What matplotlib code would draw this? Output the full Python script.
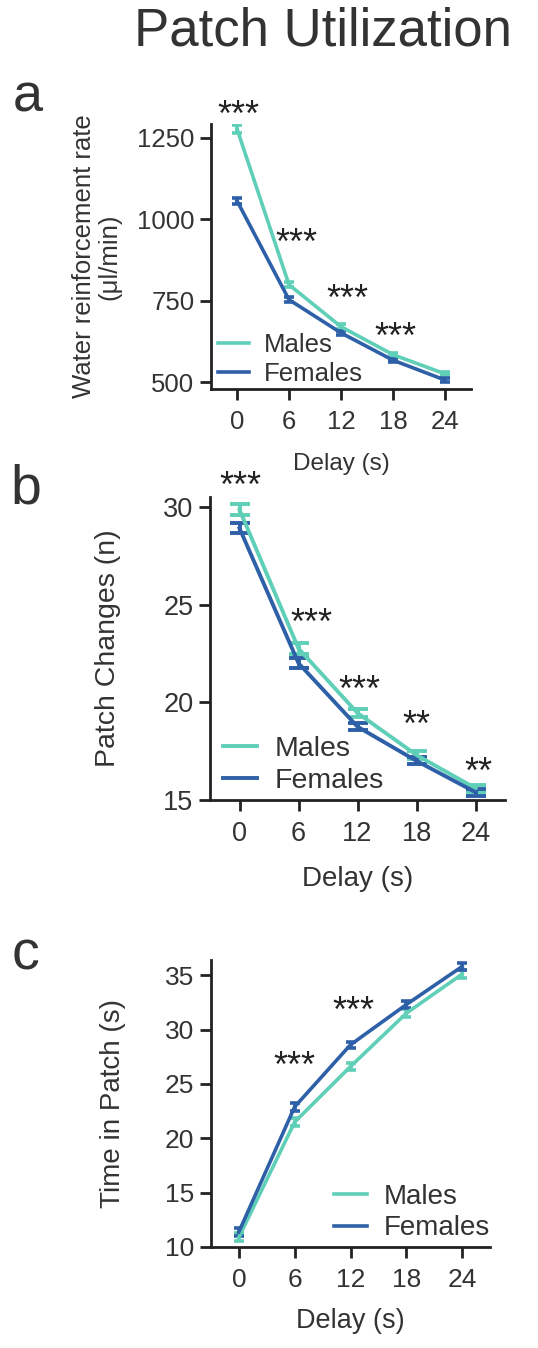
"""Patch utilization by delay: males vs females (three stacked panels)."""
import matplotlib
matplotlib.use("Agg")
import matplotlib.pyplot as plt

plt.rcParams["font.family"] = ["Liberation Sans", "DejaVu Sans"]
plt.rcParams["text.color"] = "#333333"
plt.rcParams["axes.labelcolor"] = "#333333"
plt.rcParams["xtick.color"] = "#222222"
plt.rcParams["ytick.color"] = "#222222"
plt.rcParams["xtick.labelcolor"] = "#333333"
plt.rcParams["ytick.labelcolor"] = "#333333"

delays = [0, 6, 12, 18, 24]
MALE_C = "#5fcfb8"
FEMALE_C = "#2e60a8"

# panel a: water reinforcement rate (ul/min)
rate_m = [1278, 799, 670, 584, 525]
rate_m_sem = [12, 8, 7, 6, 5]
rate_f = [1057, 753, 651, 567, 506]
rate_f_sem = [10, 8, 6, 5, 5]
rate_stars = ["***", "***", "***", "***"]
rate_star_x = [0.2, 6.8, 12.7, 18.3]
rate_star_y = [1342, 948, 775, 661]

# panel b: patch changes (n)
chg_m = [29.85, 22.75, 19.45, 17.3, 15.6]
chg_m_sem = [0.27, 0.26, 0.2, 0.2, 0.18]
chg_f = [28.9, 22.0, 18.75, 17.0, 15.4]
chg_f_sem = [0.26, 0.24, 0.18, 0.18, 0.18]
chg_stars = ["***", "***", "***", "**", "**"]
chg_star_x = [0.1, 7.3, 12.2, 18.0, 24.3]
chg_star_y = [31.4, 24.4, 21.0, 19.2, 16.8]

# panel c: time in patch (s)
time_m = [10.9, 21.5, 26.6, 31.5, 35.1]
time_m_sem = [0.35, 0.35, 0.35, 0.35, 0.35]
time_f = [11.4, 22.9, 28.6, 32.3, 35.8]
time_f_sem = [0.35, 0.35, 0.3, 0.35, 0.35]
time_stars = ["***", "***"]
time_star_x = [6.0, 12.3]
time_star_y = [27.3, 32.3]

W, H = 538, 1348
fig = plt.figure(figsize=(W / 100, H / 100), dpi=100)


def px_axes(left, right, top, bottom):
    return fig.add_axes([left / W, 1 - bottom / H, (right - left) / W, (bottom - top) / H])


def style(ax, ylim, yticks, fs):
    ax.set_xlim(-3, 27)
    ax.set_ylim(*ylim)
    ax.set_xticks(delays)
    ax.set_yticks(yticks)
    for s in ("top", "right"):
        ax.spines[s].set_visible(False)
    for s in ("left", "bottom"):
        ax.spines[s].set_linewidth(2.0)
        ax.spines[s].set_color("#222222")
    ax.tick_params(length=8, width=2.0, labelsize=fs)
    ax.tick_params(axis="x", pad=7)
    ax.tick_params(axis="y", pad=4)


def draw(ax, m, msem, f, fsem, cap, lw):
    ax.errorbar(delays, m, yerr=msem, color=MALE_C, lw=lw, capsize=cap,
                capthick=lw, elinewidth=lw, label="Males", zorder=3)
    ax.errorbar(delays, f, yerr=fsem, color=FEMALE_C, lw=lw, capsize=cap,
                capthick=lw, elinewidth=lw, label="Females", zorder=3)


def stars(ax, labels, xs, ys, fs):
    # the asterisk glyph sits high in its box, so nudge it down
    for lab, x, y in zip(labels, xs, ys):
        ax.annotate(lab, (x, y), xytext=(0, -6), textcoords="offset points",
                    ha="center", va="center", fontsize=fs, color="#222222",
                    annotation_clip=False)


def legend(ax, loc, anchor, fs, hl):
    h, l = ax.get_legend_handles_labels()
    h = [hh[0] for hh in h]
    ax.legend(h, l, loc=loc, bbox_to_anchor=anchor, frameon=False, fontsize=fs,
              handlelength=hl, handletextpad=0.6, labelspacing=0.2,
              borderpad=0, borderaxespad=0)


fig.text(323 / W, 1 - 31 / H, "Patch Utilization", ha="center", va="center",
         fontsize=38, color="#333333")

# a
ax = px_axes(211, 471, 124, 389)
draw(ax, rate_m, rate_m_sem, rate_f, rate_f_sem, 3.5, 2.6)
style(ax, (478.5, 1293), [500, 750, 1000, 1250], 18.5)
ax.set_xlabel("Delay (s)", fontsize=17.5, labelpad=14)
ax.set_ylabel("Water reinforcement rate\n(\u03bcl/min)", fontsize=18.5, labelpad=11,
              linespacing=1.1)
stars(ax, rate_stars, rate_star_x, rate_star_y, 26)
legend(ax, "lower left", (0.027, 0.01), 18.5, 1.2)
fig.text(28 / W, 1 - 97 / H, "a", ha="center", va="center", fontsize=39, color="#333333")

# b
ax = px_axes(210, 505, 497, 800)
draw(ax, chg_m, chg_m_sem, chg_f, chg_f_sem, 7, 2.8)
style(ax, (15, 30.5), [15, 20, 25, 30], 19.5)
ax.set_xlabel("Delay (s)", fontsize=20, labelpad=14)
ax.set_ylabel("Patch Changes (n)", fontsize=20.5, labelpad=30)
stars(ax, chg_stars, chg_star_x, chg_star_y, 26)
legend(ax, "lower left", (0.044, 0.02), 20.5, 1.2)
fig.text(26 / W, 1 - 490 / H, "b", ha="center", va="center", fontsize=40, color="#333333")

# c
ax = px_axes(211, 490, 960, 1247)
draw(ax, time_m, time_m_sem, time_f, time_f_sem, 3.5, 2.6)
style(ax, (10, 36.4), [10, 15, 20, 25, 30, 35], 19)
ax.set_xlabel("Delay (s)", fontsize=19.5, labelpad=12)
ax.set_ylabel("Time in Patch (s)", fontsize=20, labelpad=28)
stars(ax, time_stars, time_star_x, time_star_y, 26)
legend(ax, "lower right", (1.0, 0.02), 20, 1.2)
fig.text(26 / W, 1 - 955 / H, "c", ha="center", va="center", fontsize=40, color="#333333")

fig.savefig("out.png", dpi=100)
